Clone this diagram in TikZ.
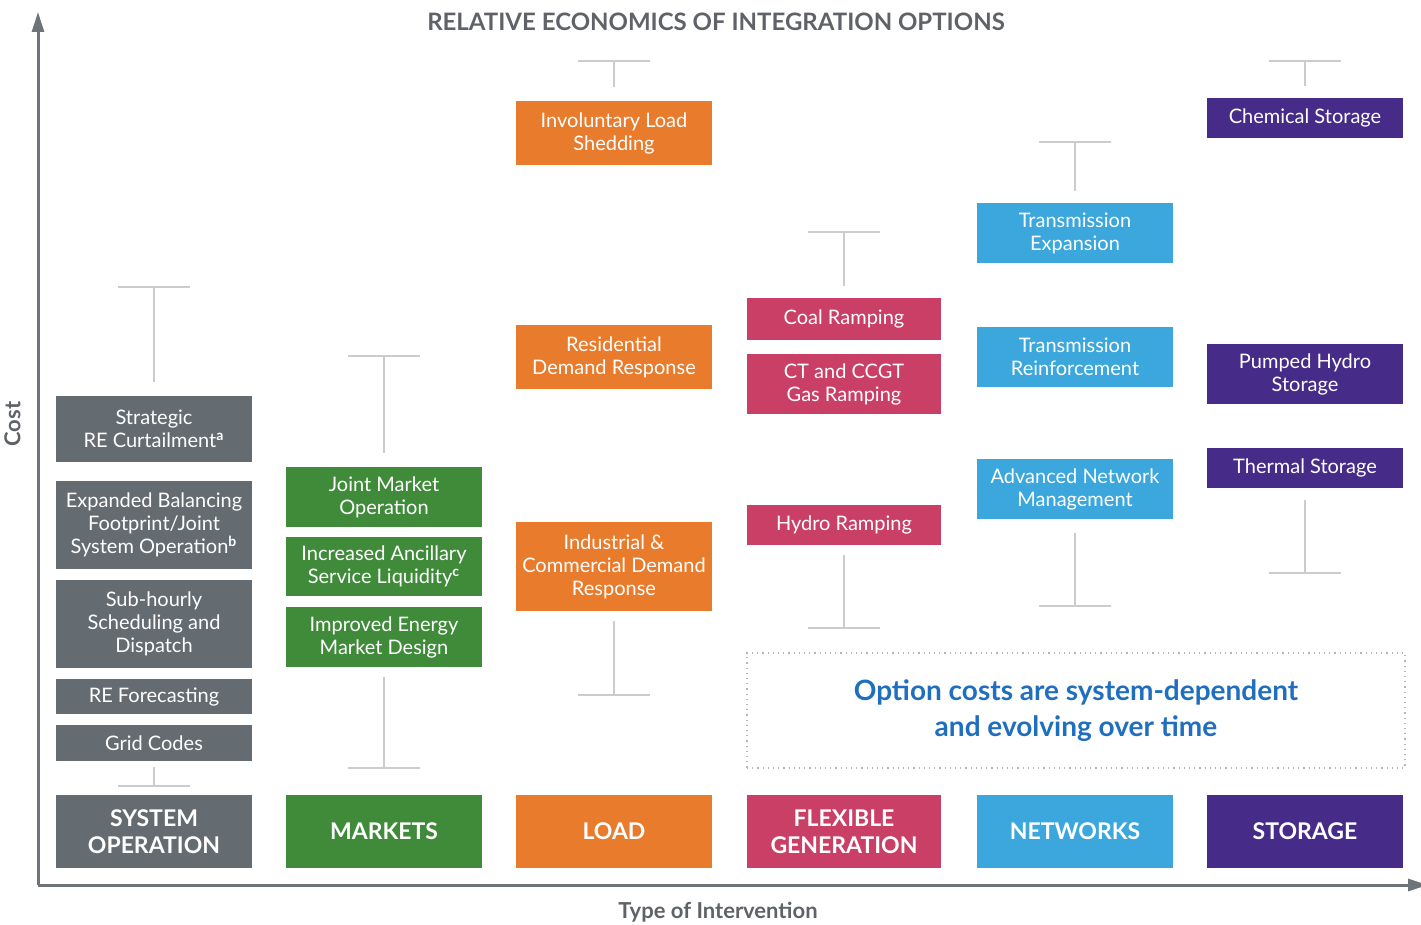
\documentclass[tikz,border=0pt]{standalone}
\usepackage{fontspec}
\setmainfont{Lato}
\usetikzlibrary{arrows.meta,positioning}

\definecolor{sogray}{HTML}{646B71}
\definecolor{mktgreen}{HTML}{3F8B3A}
\definecolor{loadorange}{HTML}{E97B2C}
\definecolor{genpink}{HTML}{C93F66}
\definecolor{netblue}{HTML}{3BA7DD}
\definecolor{storpurple}{HTML}{472B88}
\definecolor{axisgray}{HTML}{6E7479}
\definecolor{labelgray}{HTML}{5F6368}
\definecolor{notegray}{HTML}{B4B4B4}
\definecolor{noteblue}{HTML}{1F6FBE}

\begin{document}
\begin{tikzpicture}[
  x=0.5pt, y=-0.5pt,
  opt/.style={fill=#1, text=white, minimum width=98pt, inner sep=0pt, align=center,
    font=\fontsize{10}{11.5}\selectfont},
  cat/.style={fill=#1, text=white, minimum width=98pt, minimum height=36.5pt, inner sep=0pt,
    align=center, font=\fontsize{11.5}{13.5}\selectfont\bfseries},
  whisker/.style={draw=black!20, line width=1pt},
  axis/.style={draw=axisgray, line width=1.5pt, -{Triangle[length=10pt,width=6pt]}},
  lbl/.style={text=labelgray, font=\fontsize{11}{13}\selectfont\bfseries, inner sep=0pt}
]
\useasboundingbox (0,0) rectangle (1421,925);

% axes
\coordinate (origin) at (38,885);
\coordinate (costEnd) at (38,12);
\coordinate (typeEnd) at (1428,885);
\draw[axis] (origin) -- (costEnd);
\draw[axis] (origin) -- (typeEnd);
\node[lbl, rotate=90, anchor=south] (costLbl) at (21,424) {Cost};
\node[lbl] (typeLbl) at (718,912) {Type of Intervention};
\node[lbl, font=\fontsize{12}{14}\selectfont\bfseries] (title) at (716,22) {RELATIVE ECONOMICS OF INTEGRATION OPTIONS};

% system operation
\node[cat=sogray] (soCat) at (154,831.5) {SYSTEM\\OPERATION};
\node[opt=sogray, minimum height=18pt] (grid) at (154,743) {Grid Codes};
\node[opt=sogray, minimum height=17.5pt] (refc) at (154,696.5) {RE Forecasting};
\node[opt=sogray, minimum height=44pt] (subh) at (154,624) {Sub-hourly\\Scheduling and\\Dispatch};
\node[opt=sogray, minimum height=44pt] (bal) at (154,525) {Expanded Balancing\\Footprint/Joint\\System Operation\textsuperscript{\bfseries b}};
\node[opt=sogray, minimum height=33pt] (curt) at (154,429) {Strategic\\RE Curtailment\textsuperscript{\bfseries a}};

% markets
\node[cat=mktgreen] (mktCat) at (384,831.5) {MARKETS};
\node[opt=mktgreen, minimum height=30pt] (emd) at (384,637) {Improved Energy\\Market Design};
\node[opt=mktgreen, minimum height=29.5pt] (asl) at (384,566.5) {Increased Ancillary\\Service Liquidity\textsuperscript{\bfseries c}};
\node[opt=mktgreen, minimum height=30pt] (jmo) at (384,497) {Joint Market\\Operation};

% load
\node[cat=loadorange] (loadCat) at (614,831.5) {LOAD};
\node[opt=loadorange, minimum height=44.5pt] (icdr) at (614,566.5) {Industrial \&\\Commercial Demand\\Response};
\node[opt=loadorange, minimum height=32pt] (rdr) at (614,357) {Residential\\Demand Response};
\node[opt=loadorange, minimum height=32pt] (shed) at (614,133) {Involuntary Load\\Shedding};

% flexible generation
\node[cat=genpink, minimum width=97pt] (genCat) at (844,831.5) {FLEXIBLE\\GENERATION};
\node[opt=genpink, minimum width=97pt, minimum height=20pt] (hydro) at (844,525) {Hydro Ramping};
\node[opt=genpink, minimum width=97pt, minimum height=30pt] (gas) at (844,384) {CT and CCGT\\Gas Ramping};
\node[opt=genpink, minimum width=97pt, minimum height=21pt] (coal) at (844,319) {Coal Ramping};

% networks
\node[cat=netblue] (netCat) at (1075,831.5) {NETWORKS};
\node[opt=netblue, minimum height=30pt] (anm) at (1075,489) {Advanced Network\\Management};
\node[opt=netblue, minimum height=30pt] (trf) at (1075,357) {Transmission\\Reinforcement};
\node[opt=netblue, minimum height=30pt] (tex) at (1075,233) {Transmission\\Expansion};

% storage
\node[cat=storpurple] (storCat) at (1305,831.5) {STORAGE};
\node[opt=storpurple, minimum height=20pt] (therm) at (1305,468) {Thermal Storage};
\node[opt=storpurple, minimum height=30pt] (phs) at (1305,374) {Pumped Hydro\\Storage};
\node[opt=storpurple, minimum height=20pt] (chem) at (1305,118) {Chemical Storage};

% cost ranges
\coordinate (soHi) at (154,287);     \coordinate (soLo) at (154,786);
\coordinate (mktHi) at (384,356);    \coordinate (mktLo) at (384,768);
\coordinate (loadHi) at (614,61);    \coordinate (loadLo) at (614,695);
\coordinate (genHi) at (844,232);    \coordinate (genLo) at (844,628);
\coordinate (netHi) at (1075,142);   \coordinate (netLo) at (1075,606);
\coordinate (storHi) at (1305,61);   \coordinate (storLo) at (1305,573);

\draw[whisker] ([xshift=-18pt]soHi) -- ([xshift=18pt]soHi) (soHi) -- ([yshift=7pt]curt.north);
\draw[whisker] ([xshift=-18pt]soLo) -- ([xshift=18pt]soLo) (soLo) -- ([yshift=-3pt]grid.south);
\draw[whisker] ([xshift=-18pt]mktHi) -- ([xshift=18pt]mktHi) (mktHi) -- ([yshift=7pt]jmo.north);
\draw[whisker] ([xshift=-18pt]mktLo) -- ([xshift=18pt]mktLo) (mktLo) -- ([yshift=-5pt]emd.south);
\draw[whisker] ([xshift=-18pt]loadHi) -- ([xshift=18pt]loadHi) (loadHi) -- ([yshift=7pt]shed.north);
\draw[whisker] ([xshift=-18pt]loadLo) -- ([xshift=18pt]loadLo) (loadLo) -- ([yshift=-5pt]icdr.south);
\draw[whisker] ([xshift=-18pt]genHi) -- ([xshift=18pt]genHi) (genHi) -- ([yshift=6pt]coal.north);
\draw[whisker] ([xshift=-18pt]genLo) -- ([xshift=18pt]genLo) (genLo) -- ([yshift=-5pt]hydro.south);
\draw[whisker] ([xshift=-18pt]netHi) -- ([xshift=18pt]netHi) (netHi) -- ([yshift=6pt]tex.north);
\draw[whisker] ([xshift=-18pt]netLo) -- ([xshift=18pt]netLo) (netLo) -- ([yshift=-7pt]anm.south);
\draw[whisker] ([xshift=-18pt]storHi) -- ([xshift=18pt]storHi) (storHi) -- ([yshift=6pt]chem.north);
\draw[whisker] ([xshift=-18pt]storLo) -- ([xshift=18pt]storLo) (storLo) -- ([yshift=-6pt]therm.south);

% note
\node[draw=notegray, dotted, line width=0.6pt, minimum width=329pt, minimum height=57.5pt, align=center,
  text=noteblue, font=\fontsize{14}{18}\selectfont\bfseries] (note) at (1076,710.5)
  {Option costs are system-dependent\\and evolving over time};

\end{tikzpicture}
\end{document}
